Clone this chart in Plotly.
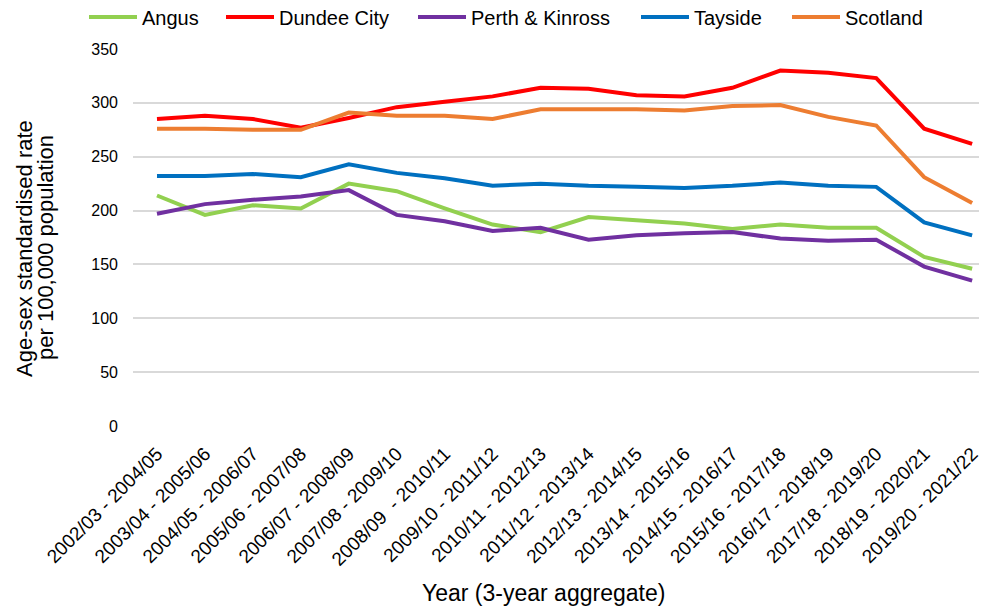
import plotly.graph_objects as go

categories = ["2002/03 - 2004/05", "2003/04 - 2005/06", "2004/05 - 2006/07", "2005/06 - 2007/08",
              "2006/07 - 2008/09", "2007/08 - 2009/10", "2008/09  - 2010/11", "2009/10 - 2011/12",
              "2010/11 - 2012/13", "2011/12 - 2013/14", "2012/13 - 2014/15", "2013/14 - 2015/16",
              "2014/15 - 2016/17", "2015/16 - 2017/18", "2016/17 - 2018/19", "2017/18 - 2019/20",
              "2018/19 - 2020/21", "2019/20 - 2021/22"]

angus = [214, 196, 205, 202, 225, 218, 202, 187, 180, 194, 191, 188, 183, 187, 184, 184, 157, 146]
dundee = [285, 288, 285, 277, 286, 296, 301, 306, 314, 313, 307, 306, 314, 330, 328, 323, 276, 262]
perth = [197, 206, 210, 213, 219, 196, 190, 181, 184, 173, 177, 179, 180, 174, 172, 173, 148, 135]
tayside = [232, 232, 234, 231, 243, 235, 230, 223, 225, 223, 222, 221, 223, 226, 223, 222, 189, 177]
scotland = [276, 276, 275, 275, 291, 288, 288, 285, 294, 294, 294, 293, 297, 298, 287, 279, 231, 207]

series_names = ["Angus", "Dundee City", "Perth & Kinross", "Tayside", "Scotland"]
series_values = [angus, dundee, perth, tayside, scotland]
series_colors = ["#92D050", "#FF0000", "#7030A0", "#0070C0", "#ED7D31"]
legend_left_px = [89, 226, 418, 641, 792]

FONT = "Liberation Sans, Arial, sans-serif"
OFF = 8  # page body margin
W, H = 987 - OFF, 610 - OFF

fig = go.Figure()
legend_ids = ["legend", "legend2", "legend3", "legend4", "legend5"]
for name, vals, col, lid in zip(series_names, series_values, series_colors, legend_ids):
    fig.add_trace(go.Scatter(x=categories, y=vals, name=name, mode="lines",
                             line=dict(color=col, width=4), legend=lid))

layout_legends = {}
for lid, px in zip(legend_ids, legend_left_px):
    layout_legends[lid] = dict(orientation="h", xref="container", yref="container",
                               x=(px - OFF - 5) / W, xanchor="left",
                               y=1 - (17 - OFF) / H, yanchor="middle",
                               font=dict(size=20, family=FONT, color="#000000"),
                               itemwidth=48, bgcolor="rgba(0,0,0,0)", borderwidth=0)

fig.update_layout(
    width=W, height=H,
    margin=dict(l=133 - OFF, r=0, t=49 - OFF, b=H - (426 - OFF), autoexpand=False),
    paper_bgcolor="white", plot_bgcolor="white",
    font=dict(family=FONT, color="#000000", size=16),
    showlegend=True,
    **layout_legends,
)
fig.update_xaxes(type="category", range=[-0.5, 17.31], showgrid=False, zeroline=False,
                 showline=False, ticks="", tickangle=-45, automargin=False, ticklabelstandoff=12,
                 tickfont=dict(size=19, family=FONT, color="#000000"))
fig.update_yaxes(range=[0, 350], dtick=50, showgrid=True, gridcolor="#D9D9D9", gridwidth=1.5,
                 zeroline=False, showline=False, ticks="", ticklabelstandoff=14, automargin=False,
                 tickfont=dict(size=16, family=FONT, color="#000000"))

fig.add_annotation(text="Age-sex standardised rate", textangle=-90, xref="paper", yref="paper",
                   x=(24 - 133) / 854, y=(426 - 249) / 377, xanchor="center", yanchor="middle",
                   showarrow=False, font=dict(size=22, family=FONT, color="#000000"))
fig.add_annotation(text="per 100,000 population", textangle=-90, xref="paper", yref="paper",
                   x=(45 - 133) / 854, y=(426 - 248) / 377, xanchor="center", yanchor="middle",
                   showarrow=False, font=dict(size=22, family=FONT, color="#000000"))
fig.add_annotation(text="Year (3-year aggregate)", xref="paper", yref="paper",
                   x=(543 - 133) / 854, y=(426 - 593) / 377, xanchor="center", yanchor="middle",
                   showarrow=False, font=dict(size=23, family=FONT, color="#000000"))

fig.write_html("out.html")
